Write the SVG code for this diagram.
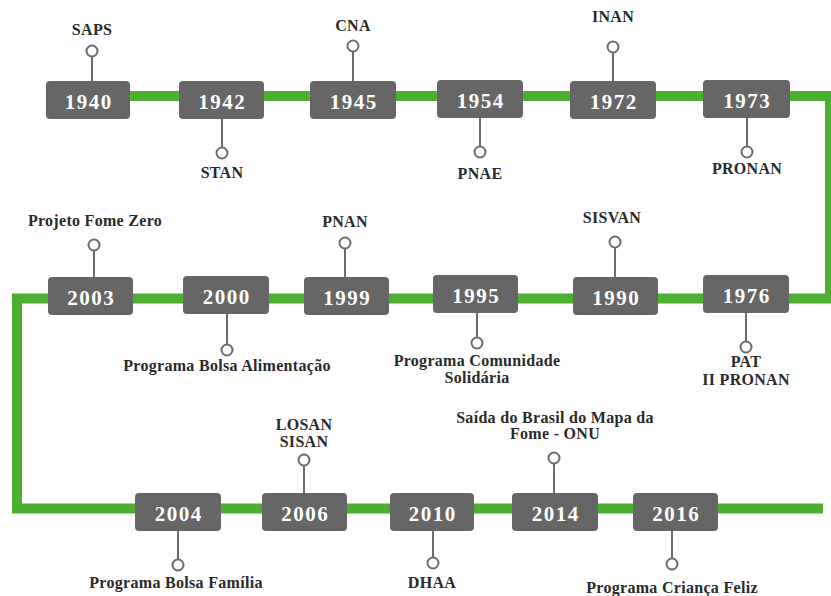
<svg xmlns="http://www.w3.org/2000/svg" width="831" height="596" viewBox="0 0 831 596">
<style>
.box{fill:#666666}
.yr{font-family:"Liberation Serif","Times New Roman",serif;font-weight:bold;font-size:21px;fill:#ffffff;text-anchor:middle;letter-spacing:1.5px}
.lbl{font-family:"Liberation Serif","Times New Roman",serif;font-weight:bold;font-size:16px;fill:#2a2a2a;text-anchor:middle;letter-spacing:0.3px}
.stem{stroke:#6b6b6b;stroke-width:2;fill:none}
.dot{stroke:#6b6b6b;stroke-width:2;fill:#ffffff}
.track{stroke:#4caf2f;stroke-width:10;fill:none;stroke-linejoin:miter}
</style>
<rect width="831" height="596" fill="#ffffff"/>
<g id="connectors">
<path class="track" d="M120 96 H830 V298.5 H17 V508.5 H823"/>
</g>
<g id="n1940"><line class="stem" x1="92" y1="57" x2="92" y2="81"/><circle class="dot" cx="92" cy="51" r="5.5"/><rect class="box" x="46" y="81" width="84" height="38" rx="4"/><text class="yr" x="88.8" y="109">1940</text><text class="lbl" x="92" y="35">SAPS</text></g>
<g id="n1942"><line class="stem" x1="222" y1="119" x2="222" y2="147"/><circle class="dot" cx="222" cy="153" r="5.5"/><rect class="box" x="179" y="81" width="85" height="38" rx="4"/><text class="yr" x="222.3" y="109">1942</text><text class="lbl" x="222" y="178">STAN</text></g>
<g id="n1945"><line class="stem" x1="353" y1="52" x2="353" y2="81"/><circle class="dot" cx="353" cy="46" r="5.5"/><rect class="box" x="310" y="81" width="86" height="38" rx="4"/><text class="yr" x="353.8" y="109">1945</text><text class="lbl" x="353" y="31">CNA</text></g>
<g id="n1954"><line class="stem" x1="480" y1="118" x2="480" y2="146"/><circle class="dot" cx="480" cy="152" r="5.5"/><rect class="box" x="437" y="80" width="86" height="38" rx="4"/><text class="yr" x="480.8" y="108">1954</text><text class="lbl" x="480" y="179">PNAE</text></g>
<g id="n1972"><line class="stem" x1="613" y1="53" x2="613" y2="81"/><circle class="dot" cx="613" cy="47" r="5.5"/><rect class="box" x="570" y="81" width="86" height="38" rx="4"/><text class="yr" x="613.8" y="109">1972</text><text class="lbl" x="613" y="22">INAN</text></g>
<g id="n1973"><line class="stem" x1="747" y1="118" x2="747" y2="146"/><circle class="dot" cx="747" cy="152" r="5.5"/><rect class="box" x="703" y="80" width="87" height="38" rx="4"/><text class="yr" x="747.3" y="108">1973</text><text class="lbl" x="747" y="174">PRONAN</text></g>
<g id="n2003"><line class="stem" x1="94" y1="251" x2="94" y2="277"/><circle class="dot" cx="94" cy="245" r="5.5"/><rect class="box" x="48" y="277" width="85" height="38" rx="4"/><text class="yr" x="91.3" y="305">2003</text><text class="lbl" x="95" y="226">Projeto Fome Zero</text></g>
<g id="n2000"><line class="stem" x1="227" y1="314" x2="227" y2="344"/><circle class="dot" cx="227" cy="350" r="5.5"/><rect class="box" x="183" y="276" width="86" height="38" rx="4"/><text class="yr" x="226.8" y="304">2000</text><text class="lbl" x="227" y="371">Programa Bolsa Alimentação</text></g>
<g id="n1999"><line class="stem" x1="345" y1="249" x2="345" y2="277"/><circle class="dot" cx="345" cy="243" r="5.5"/><rect class="box" x="304" y="277" width="85" height="38" rx="4"/><text class="yr" x="347.3" y="305">1999</text><text class="lbl" x="345" y="227">PNAN</text></g>
<g id="n1995"><line class="stem" x1="477" y1="313" x2="477" y2="337"/><circle class="dot" cx="477" cy="343" r="5.5"/><rect class="box" x="433" y="275" width="85" height="38" rx="4"/><text class="yr" x="476.3" y="303">1995</text><text class="lbl" x="477" y="366">Programa Comunidade</text><text class="lbl" x="477" y="383">Solidária</text></g>
<g id="n1990"><line class="stem" x1="615" y1="248" x2="615" y2="277"/><circle class="dot" cx="615" cy="242" r="5.5"/><rect class="box" x="573" y="277" width="85" height="38" rx="4"/><text class="yr" x="616.3" y="305">1990</text><text class="lbl" x="612" y="223">SISVAN</text></g>
<g id="n1976"><line class="stem" x1="746" y1="313" x2="746" y2="341"/><circle class="dot" cx="746" cy="347" r="5.5"/><rect class="box" x="703" y="275" width="86" height="38" rx="4"/><text class="yr" x="746.8" y="303">1976</text><text class="lbl" x="746" y="367">PAT</text><text class="lbl" x="746" y="385">II PRONAN</text></g>
<g id="n2004"><line class="stem" x1="178" y1="531" x2="178" y2="559"/><circle class="dot" cx="178" cy="565" r="5.5"/><rect class="box" x="135" y="493" width="86" height="38" rx="4"/><text class="yr" x="178.8" y="521">2004</text><text class="lbl" x="176" y="588">Programa Bolsa Família</text></g>
<g id="n2006"><line class="stem" x1="304" y1="466" x2="304" y2="493"/><circle class="dot" cx="304" cy="460" r="5.5"/><rect class="box" x="262" y="493" width="85" height="38" rx="4"/><text class="yr" x="305.3" y="521">2006</text><text class="lbl" x="304" y="430">LOSAN</text><text class="lbl" x="304" y="447">SISAN</text></g>
<g id="n2010"><line class="stem" x1="433" y1="531" x2="433" y2="557"/><circle class="dot" cx="433" cy="563" r="5.5"/><rect class="box" x="390" y="493" width="84" height="38" rx="4"/><text class="yr" x="432.8" y="521">2010</text><text class="lbl" x="432" y="588">DHAA</text></g>
<g id="n2014"><line class="stem" x1="554" y1="464" x2="554" y2="493"/><circle class="dot" cx="554" cy="458" r="5.5"/><rect class="box" x="512" y="493" width="86" height="38" rx="4"/><text class="yr" x="555.8" y="521">2014</text><text class="lbl" x="555" y="423">Saída do Brasil do Mapa da</text><text class="lbl" x="555" y="439">Fome - ONU</text></g>
<g id="n2016"><line class="stem" x1="672" y1="531" x2="672" y2="558"/><circle class="dot" cx="672" cy="564" r="5.5"/><rect class="box" x="633" y="493" width="85" height="38" rx="4"/><text class="yr" x="676.3" y="521">2016</text><text class="lbl" x="672" y="593">Programa Criança Feliz</text></g>
</svg>
